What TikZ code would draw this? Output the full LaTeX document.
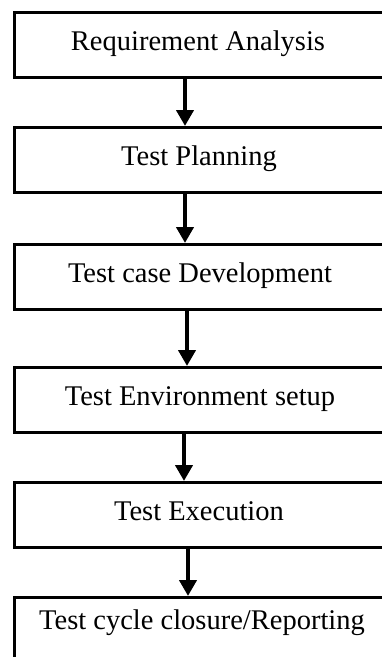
\documentclass[tikz,border=0pt]{standalone}
\usepackage{fontspec}
\setmainfont{Liberation Serif}
\usetikzlibrary{arrows.meta}
\begin{document}
\begin{tikzpicture}[x=1pt,y=1pt,
  stagebox/.style={draw=black,line width=2.6pt,fill=white,minimum width=373pt,
    minimum height=65pt,inner sep=0pt,anchor=north west},
  lbl/.style={inner sep=0pt,font=\fontsize{28.5}{30}\selectfont,text height=19pt,text depth=6pt},
  flow/.style={line width=4pt,-{Triangle[length=16pt,width=17pt]}}]
\useasboundingbox (0,0) rectangle (382,-657);
\clip (0,0) rectangle (382,-657);
\fill[white] (0,0) rectangle (382,-657);
\node[stagebox] (b1) at (13,-11) {};
\node[stagebox] (b2) at (13,-126) {};
\node[stagebox] (b3) at (13,-243) {};
\node[stagebox] (b4) at (13,-366) {};
\node[stagebox] (b5) at (13,-481) {};
\node[stagebox] (b6) at (13,-596) {};
\node[lbl] (t1) at (198,-43.5) {Requirement Analysis};
\node[lbl] (t2) at (199,-158.5) {Test Planning};
\node[lbl] (t3) at (200,-276) {Test case Development};
\node[lbl] (t4) at (200,-398.5) {Test Environment setup};
\node[lbl] (t5) at (199,-514) {Test Execution};
\node[lbl] (t6) at (202,-622.5) {Test cycle closure/Reporting};
\coordinate (a1s) at (185,-76);  \coordinate (a1e) at (185,-126);
\coordinate (a2s) at (185,-191); \coordinate (a2e) at (185,-243);
\coordinate (a3s) at (187,-309); \coordinate (a3e) at (187,-366);
\coordinate (a4s) at (184,-431); \coordinate (a4e) at (184,-481);
\coordinate (a5s) at (188,-547); \coordinate (a5e) at (188,-596);
\draw[flow] (a1s) -- (a1e);
\draw[flow] (a2s) -- (a2e);
\draw[flow] (a3s) -- (a3e);
\draw[flow] (a4s) -- (a4e);
\draw[flow] (a5s) -- (a5e);
\end{tikzpicture}
\end{document}
